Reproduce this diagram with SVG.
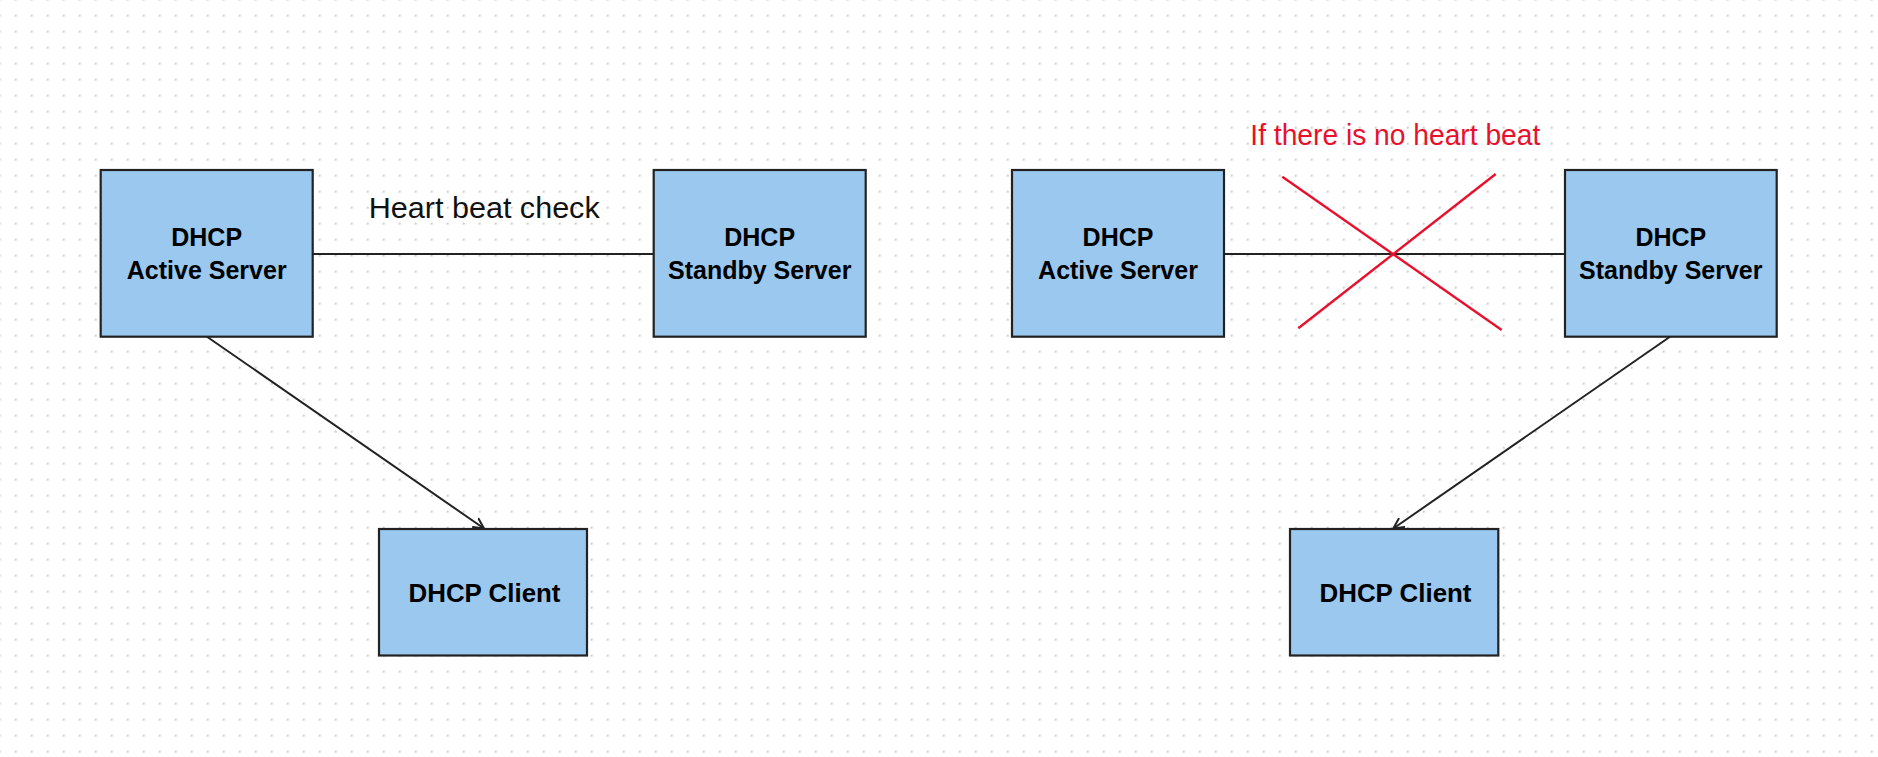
<svg xmlns="http://www.w3.org/2000/svg" width="1878" height="757" viewBox="0 0 1878 757">
  <defs>
    <pattern id="dots" patternUnits="userSpaceOnUse" x="-1.3" y="-1.3" width="16" height="16">
      <rect x="0" y="0" width="2" height="2" fill="#cccccc"/>
    </pattern>
    <marker id="arrow" viewBox="0 0 12 12" refX="11" refY="6" markerWidth="12" markerHeight="12" markerUnits="userSpaceOnUse" orient="auto">
      <path d="M1,1 L11,6 L1,11" fill="none" stroke="#222222" stroke-width="2" stroke-linecap="round" stroke-linejoin="round"/>
    </marker>
    <style>
      .box { fill: #9AC8EE; stroke: #222222; stroke-width: 2.2; }
      .lbl { font-family: "Liberation Sans", Arial, sans-serif; font-weight: bold; font-size: 25px; fill: #000000; text-anchor: middle; }
      .note { font-family: "Liberation Sans", Arial, sans-serif; font-size: 29px; text-anchor: middle; }
      .conn { stroke: #222222; stroke-width: 2; fill: none; }
      .cross { stroke: #E8112D; stroke-width: 2.4; fill: none; }
    </style>
  </defs>
  <rect x="0" y="0" width="1878" height="757" fill="#ffffff"/>
  <rect x="0" y="0" width="1878" height="757" fill="url(#dots)"/>

  <g id="connectors">
    <line class="conn" x1="312.7" y1="254" x2="653.7" y2="254"/>
    <line class="conn" x1="207" y1="336.7" x2="484" y2="528.5" marker-end="url(#arrow)"/>
    <line class="conn" x1="1224" y1="254" x2="1565" y2="254"/>
    <line class="conn" x1="1670" y1="336.7" x2="1393.3" y2="528.5" marker-end="url(#arrow)"/>
  </g>

  <g id="active1">
    <rect class="box" x="100.7" y="170" width="212" height="166.7"/>
    <text class="lbl" x="206.7" y="246">DHCP</text>
    <text class="lbl" x="206.7" y="279.3">Active Server</text>
  </g>
  <g id="standby1">
    <rect class="box" x="653.7" y="170" width="212" height="166.7"/>
    <text class="lbl" x="759.7" y="246">DHCP</text>
    <text class="lbl" x="759.7" y="279.3">Standby Server</text>
  </g>
  <g id="client1">
    <rect class="box" x="379" y="529" width="208" height="126.5"/>
    <text class="lbl" x="484.5" y="601.7" textLength="152" lengthAdjust="spacingAndGlyphs">DHCP Client</text>
  </g>

  <g id="active2">
    <rect class="box" x="1012" y="170" width="212" height="166.7"/>
    <text class="lbl" x="1118" y="246">DHCP</text>
    <text class="lbl" x="1118" y="279.3">Active Server</text>
  </g>
  <g id="standby2">
    <rect class="box" x="1565" y="170" width="211.7" height="166.7"/>
    <text class="lbl" x="1670.8" y="246">DHCP</text>
    <text class="lbl" x="1670.8" y="279.3">Standby Server</text>
  </g>
  <g id="client2">
    <rect class="box" x="1290" y="529" width="208.3" height="126.5"/>
    <text class="lbl" x="1395.5" y="601.7" textLength="152" lengthAdjust="spacingAndGlyphs">DHCP Client</text>
  </g>

  <g id="heartbeat-label">
    <text class="note" x="484.2" y="217.7" fill="#111111" textLength="231" lengthAdjust="spacingAndGlyphs">Heart beat check</text>
  </g>
  <g id="failure">
    <text class="note" x="1395.3" y="145" fill="#E8112D" textLength="290" lengthAdjust="spacingAndGlyphs">If there is no heart beat</text>
    <line class="cross" x1="1282.3" y1="176.7" x2="1501.7" y2="330"/>
    <line class="cross" x1="1495.7" y1="174" x2="1298.3" y2="328.3"/>
  </g>
</svg>
